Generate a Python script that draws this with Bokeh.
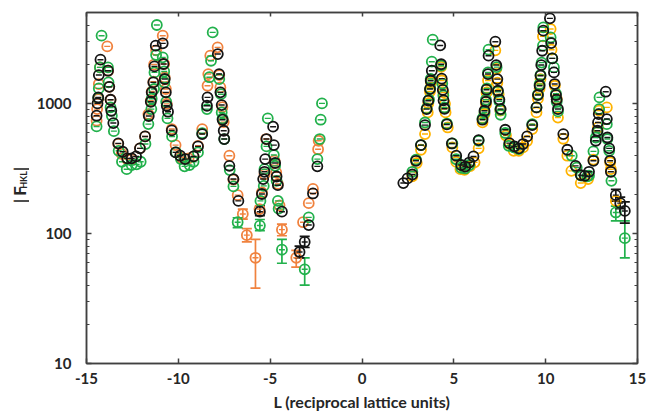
import math
from bokeh.plotting import figure
from bokeh.layouts import row
from bokeh.models import (ColumnDataSource, Whisker, TeeHead, LinearAxis, LogAxis,
                          FixedTicker, PrintfTickFormatter, CustomJSTickFormatter, Range1d)
from bokeh.core.properties import value
from bokeh.embed import file_html
from bokeh.resources import INLINE

# ---------------- data ----------------
black_L = [-14.45, -14.40, -14.36, -14.33, -14.24, -13.83, -13.76, -13.69, -13.65, -13.54,
           -13.27, -13.03, -12.78, -12.54, -12.30, -12.09, -11.81, -11.61, -11.50, -11.45,
           -11.36, -11.30, -11.23, -10.85, -10.81, -10.74, -10.68, -10.63, -10.56, -10.36,
           -10.15, -9.90, -9.63, -9.17, -8.93, -8.70, -8.44, -8.41, -7.85, -7.78,
           -7.71, -7.64, -7.59, -7.53, -7.50, -7.22, -7.00, -6.73, -5.56, -5.45,
           -5.38, -5.31, -5.27, -5.20, -4.84, -4.80, -4.73, -4.65, -4.58, -4.36,
           -3.40, -3.12, -2.90, -2.67, -2.43,
           2.25, 2.48, 2.74, 2.94, 3.21, 3.43, 3.52, 3.61, 3.70, 3.74,
           3.80, 4.26, 4.31, 4.34, 4.40, 4.44, 4.49, 4.62, 4.89, 5.13,
           5.40, 5.62, 5.84, 6.07, 6.35, 6.56, 6.67, 6.75, 6.78, 6.86,
           6.89, 7.26, 7.31, 7.37, 7.40, 7.48, 7.55, 7.80, 8.02, 8.30,
           8.54, 8.77, 8.99, 9.27, 9.50, 9.58, 9.67, 9.72, 9.76, 9.81,
           9.87, 10.23, 10.30, 10.36, 10.45, 10.49, 10.56, 10.60, 10.67, 10.96,
           11.18, 11.63, 11.91, 12.13, 12.36, 12.60, 12.73, 12.82, 12.85, 12.89,
           13.27, 13.33, 13.36, 13.46, 13.51, 13.55, 13.82, 14.06, 14.31]
black_F = [804, 1000, 1110, 1652, 2168, 1784, 1340, 1067, 878, 706,
           493, 425, 378, 378, 391, 451, 557, 800, 1030, 1216,
           1451, 1926, 2778, 2895, 2009, 1540, 1216, 959, 863, 620,
           420, 396, 373, 391, 467, 581, 959, 1112, 2396, 1681,
           1216, 971, 749, 616, 532, 331, 262, 178, 147, 201,
           262, 298, 373, 532, 662, 478, 348, 274, 235, 147,
           72, 86, 116, 203, 328,
           244, 265, 284, 362, 478, 681, 904, 1049, 1289, 1494,
           1784, 2790, 2000, 1550, 1270, 1055, 910, 689, 492, 396,
           336, 327, 351, 391, 522, 749, 878, 1030, 1274, 1681,
           2327, 2981, 1972, 1538, 1251, 1070, 904, 627, 495, 467,
           451, 487, 557, 681, 932, 1159, 1367, 1633, 1972, 2541,
           3623, 4509, 2912, 2219, 1731, 1409, 1159, 1070, 905, 581,
           440, 331, 281, 277, 298, 362, 516, 616, 714, 828,
           1230, 758, 547, 451, 362, 298, 197, 171, 149]

green_L = [-14.45, -14.36, -14.33, -14.27, -14.18, -13.83, -13.80, -13.69, -13.62, -13.51,
           -13.25, -13.07, -12.81, -12.54, -12.27, -12.05, -11.79, -11.63, -11.47, -11.45,
           -11.32, -11.30, -11.21, -11.17, -10.85, -10.77, -10.76, -10.66, -10.59, -10.34,
           -10.12, -9.86, -9.66, -9.39, -9.17, -8.93, -8.70, -8.44, -8.31, -8.22,
           -8.13, -7.77, -7.68, -7.64, -7.59, -7.50, -7.20, -7.00, -6.77, -5.56,
           -5.53, -5.35, -5.31, -5.20, -5.13, -4.80, -4.73, -4.65, -4.58, -4.54,
           -4.36, -3.12, -2.90, -2.43, -2.30, -2.25, -2.18,
           2.74, 2.94, 3.21, 3.43, 3.52, 3.65, 3.72, 3.74, 3.80, 3.85,
           4.31, 4.37, 4.43, 4.49, 4.62, 4.92, 5.13, 5.40, 5.62, 5.84,
           6.35, 6.56, 6.67, 6.75, 6.80, 6.86, 6.89, 7.33, 7.40, 7.48,
           7.53, 7.55, 7.80, 7.99, 8.26, 8.54, 9.27, 9.50, 9.58, 9.67,
           9.72, 9.78, 9.85, 9.87, 10.27, 10.36, 10.45, 10.56, 10.60, 10.67,
           11.42, 11.69, 11.94, 12.27, 12.36, 12.60, 12.73, 12.82, 12.91, 12.93,
           13.33, 13.36, 13.46, 13.58, 13.82, 14.31]
green_F = [665, 1100, 1304, 1892, 3317, 1892, 1452, 931, 804, 612,
           432, 356, 312, 336, 340, 356, 487, 693, 904, 1087,
           1290, 1731, 2355, 4007, 2259, 1760, 1450, 1030, 767, 557,
           420, 373, 328, 336, 356, 420, 590, 904, 1590, 2128,
           3516, 1538, 1177, 852, 767, 532, 307, 230, 122, 115,
           178, 232, 312, 467, 767, 401, 331, 254, 178, 155,
           75, 53, 133, 373, 532, 749, 1000,
           298, 369, 478, 713, 915, 1067, 1304, 1540, 2093, 3090,
           1950, 1420, 1150, 930, 700, 492, 372, 320, 316, 336,
           516, 767, 852, 1067, 1304, 1731, 2588, 1900, 1230, 1040,
           900, 818, 592, 472, 460, 445, 692, 932, 1175, 1406,
           1655, 2060, 2778, 3841, 3214, 2219, 1892, 1190, 1030, 868,
           396, 321, 278, 275, 278, 428, 547, 599, 904, 1112,
           692, 532, 432, 254, 145, 92]

orange_L = [-14.45, -14.42, -14.36, -14.33, -14.27, -13.87, -13.82, -13.76, -13.69, -13.27,
            -13.09, -12.78, -12.54, -12.09, -11.81, -11.63, -11.50, -11.45, -11.36, -11.32,
            -11.21, -10.85, -10.77, -10.74, -10.68, -10.63, -10.36, -10.15, -9.86, -9.44,
            -9.17, -8.93, -8.70, -8.41, -8.37, -8.26, -7.86, -7.77, -7.71, -7.60,
            -7.53, -7.22, -7.00, -6.77, -6.49, -6.27, -5.80, -5.58, -5.45, -5.31,
            -5.22, -4.76, -4.67, -4.58, -4.49, -4.36, -3.58, -3.21, -2.90, -2.67,
            -2.39, -2.36]
orange_F = [736, 904, 1080, 1409, 1892, 2743, 1784, 1340, 1067, 488,
            410, 372, 372, 451, 557, 828, 1050, 1233, 1470, 1990,
            2558, 3317, 2009, 1585, 1290, 992, 635, 478, 383, 378,
            391, 472, 635, 1367, 1681, 2327, 2697, 1650, 1327, 935,
            718, 396, 259, 197, 141, 97, 65, 154, 207, 285,
            532, 363, 295, 240, 164, 107, 65, 122, 171, 220,
            444, 516]

gold_L = [2.74, 2.98, 3.21, 3.43, 3.58, 3.61, 3.70, 3.76, 4.31, 4.34,
          4.43, 4.52, 4.55, 4.67, 4.92, 5.13, 5.36, 5.58, 5.89, 6.13,
          6.35, 6.56, 6.67, 6.75, 6.78, 6.86, 7.26, 7.31, 7.37, 7.44,
          7.53, 7.84, 8.05, 8.26, 8.54, 8.77, 8.99, 9.27, 9.50, 9.58,
          9.67, 9.72, 9.85, 10.27, 10.32, 10.50, 10.60, 10.67, 10.96, 11.18,
          11.40, 11.91, 12.31, 12.60, 12.85, 12.91, 13.33, 13.51, 13.55, 13.82]
gold_F = [275, 348, 440, 581, 852, 1003, 1233, 1444, 1910, 1500,
          1214, 992, 852, 653, 459, 355, 312, 309, 330, 352,
          451, 714, 828, 983, 1214, 1500, 2558, 1840, 1444, 1177,
          880, 566, 486, 432, 432, 459, 514, 635, 852, 1087,
          1304, 1538, 3275, 3733, 2588, 1367, 1087, 778, 535, 396,
          303, 244, 262, 369, 653, 880, 932, 352, 312, 178]

# visible error bars (L, lower, upper)
black_err_L = [-5.56, -3.40, -3.12, 13.82, 14.06, 14.31]
black_err_lo = [137, 65, 78, 177, 155, 120]
black_err_hi = [163, 80, 95, 218, 190, 175]
green_err_L = [-6.77, -5.56, -4.36, -3.12, 13.82, 14.31]
green_err_lo = [111, 105, 59, 40, 125, 65]
green_err_hi = [132, 128, 90, 65, 162, 125]
orange_err_L = [-6.49, -6.27, -5.80, -4.36, -3.58]
orange_err_lo = [129, 86, 38, 96, 55]
orange_err_hi = [154, 109, 90, 118, 74]

x_ticks = [-15, -10, -5, 0, 5, 10, 15]
y_ticks = [10, 100, 1000]
y_minor = [20, 30, 40, 50, 60, 70, 80, 90, 200, 300, 400, 500, 600, 700, 800, 900,
           2000, 3000, 4000]

# ---------------- styling ----------------
BLACK = "#151515"
GREEN = "#22B14C"
ORANGE = "#F0823E"
GOLD = "#FFB300"
AXIS = "#404040"
TEXT = "#262626"
FONT = "Lato"
LEFT_W = 29
H = 415

p = figure(frame_width=551, frame_height=351,
           x_range=Range1d(-15, 15), y_range=Range1d(10, 5000), y_axis_type="log",
           output_backend="svg", toolbar_location=None,
           min_border_left=86 - LEFT_W, min_border_right=11, min_border_top=12,
           min_border_bottom=52)
p.xgrid.visible = False
p.ygrid.visible = False
p.outline_line_color = AXIS
p.outline_line_width = 1.5
p.background_fill_color = "white"
p.border_fill_color = "white"

xa = p.xaxis[0]
xa.ticker = FixedTicker(ticks=x_ticks)
xa.formatter = PrintfTickFormatter(format="%d")
xa.major_tick_in = 5
xa.major_tick_out = 0
xa.minor_tick_line_color = None
xa.axis_line_color = AXIS
xa.axis_line_width = 1.5
xa.major_tick_line_color = AXIS
xa.major_tick_line_width = 1.5
xa.major_label_text_font = FONT
xa.major_label_text_font_style = "bold"
xa.major_label_text_font_size = "15px"
xa.major_label_text_color = TEXT
xa.major_label_standoff = 9
xa.axis_label = "L (reciprocal lattice units)"
xa.axis_label_text_font = FONT
xa.axis_label_text_font_style = "bold"
xa.axis_label_text_font_size = "16px"
xa.axis_label_text_color = TEXT
xa.axis_label_standoff = 5

ya = p.yaxis[0]
ya.ticker = FixedTicker(ticks=y_ticks, minor_ticks=y_minor)
ya.formatter = PrintfTickFormatter(format="%d")
ya.major_tick_in = 5
ya.major_tick_out = 0
ya.minor_tick_in = 3
ya.minor_tick_out = 0
ya.axis_line_color = AXIS
ya.axis_line_width = 1.5
ya.major_tick_line_color = AXIS
ya.major_tick_line_width = 1.5
ya.minor_tick_line_color = AXIS
ya.minor_tick_line_width = 1.2
ya.major_label_text_font = FONT
ya.major_label_text_font_style = "bold"
ya.major_label_text_font_size = "15px"
ya.major_label_text_color = TEXT
ya.major_label_standoff = 15

empty = CustomJSTickFormatter(code="return ''")
top = LinearAxis(ticker=FixedTicker(ticks=x_ticks), formatter=empty,
                 major_tick_in=4, major_tick_out=0, minor_tick_line_color=None,
                 axis_line_color=AXIS, axis_line_width=1.5, major_tick_line_color=AXIS,
                 major_tick_line_width=1.5, major_label_standoff=0)
p.add_layout(top, "above")
right = LogAxis(ticker=FixedTicker(ticks=y_ticks, minor_ticks=y_minor), formatter=empty,
                major_tick_in=5, major_tick_out=0, minor_tick_in=3, minor_tick_out=0,
                axis_line_color=AXIS, axis_line_width=1.5, major_tick_line_color=AXIS,
                major_tick_line_width=1.5, minor_tick_line_color=AXIS,
                minor_tick_line_width=1.2, major_label_standoff=0)
p.add_layout(right, "right")


def series(L, F, color, eL=None, elo=None, ehi=None):
    src = ColumnDataSource(dict(x=L, y=F))
    if eL:
        es = ColumnDataSource(dict(x=eL, lo=elo, hi=ehi))
        w = Whisker(source=es, base="x", lower="lo", upper="hi", dimension="height",
                    line_color=color, line_width=1.7,
                    upper_head=TeeHead(size=10, line_color=color, line_width=1.7),
                    lower_head=TeeHead(size=10, line_color=color, line_width=1.7))
        p.add_layout(w)
    p.scatter("x", "y", source=src, marker="circle", size=10, fill_color=None,
              line_color=color, line_width=1.8)
    p.scatter("x", "y", source=src, marker="dash", size=6, line_color=color,
              line_width=1.4)


series(orange_L, orange_F, ORANGE, orange_err_L, orange_err_lo, orange_err_hi)
series(gold_L, gold_F, GOLD)
series(green_L, green_F, GREEN, green_err_L, green_err_lo, green_err_hi)
series(black_L, black_F, BLACK, black_err_L, black_err_lo, black_err_hi)

# ---- narrow strip on the left holding the rotated y title |F_HKL| ----
# strip coordinates are pixels, y measured upward from the bottom of the strip
lf = figure(width=LEFT_W, height=H, x_range=Range1d(0, LEFT_W),
            y_range=Range1d(0, H), output_backend="svg", toolbar_location=None,
            x_axis_location=None, y_axis_location=None,
            min_border=0, min_border_left=0, min_border_right=0, min_border_top=0,
            min_border_bottom=0)
lf.xgrid.visible = False
lf.ygrid.visible = False
lf.outline_line_color = None
lf.background_fill_color = "white"
lf.border_fill_color = "white"


def ylab(x, y_from_top, text, size):
    lf.text(x=[x], y=[H - y_from_top], text=[text], angle=math.pi / 2,
            text_align="center", text_baseline="middle", text_font=value(FONT),
            text_font_style="bold", text_font_size=size, text_color=TEXT)


ylab(19.5, 223, "|", "17px")
ylab(18.5, 211, "F", "17px")
ylab(22.5, 198, "HKL", "9px")
ylab(19.5, 185, "|", "17px")

layout = row(lf, p, spacing=0)
open("out.html", "w").write(file_html(layout, INLINE))
